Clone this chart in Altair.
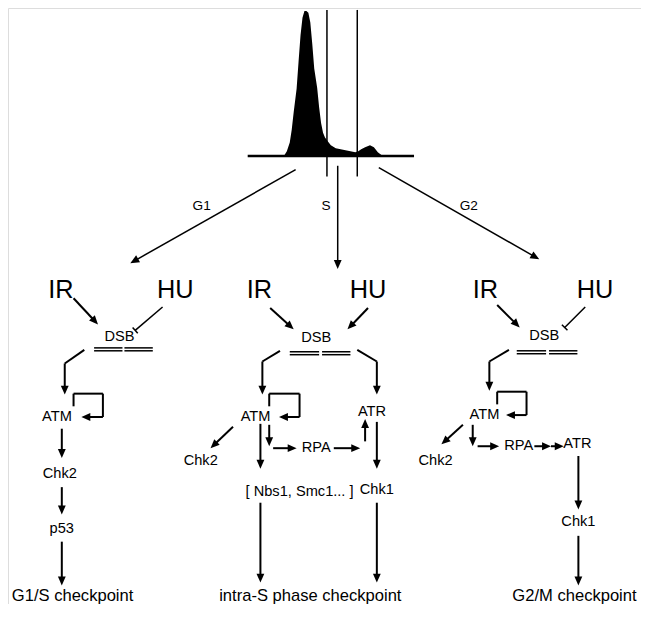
import math
import altair as alt
import pandas as pd

# ---------------- data (image pixel coordinates) ----------------
# DNA content histogram
hist_x = [287, 290, 293, 295, 297, 300, 302, 304, 306, 308, 310, 312, 314, 316, 318, 321, 323,
          325, 327, 329, 332, 335, 340, 345, 350, 355, 360, 363, 366, 370, 375, 379, 383, 388]
hist_y = [157, 152, 143, 130, 112, 88, 60, 33, 15, 8, 8, 10, 20, 42, 67, 87, 107,
          123, 133, 138, 142, 146, 149, 150, 151, 152, 153, 152, 150, 148, 146, 148, 153, 157]
hist_base = 157

# line segments: x1, y1, x2, y2, width, arrowhead at end (1/0)
seg_x1 = [250, 331, 362, 299, 342, 384,
          # panel G1
          72, 93, 93, 124, 124, 83, 63, 72, 72, 102, 102, 60, 60, 60,
          # panel S
          273, 373, 293, 293, 326, 326, 283, 265, 362, 382, 272, 272, 303, 303,
          235, 263, 272, 276, 338, 370, 382, 263, 382,
          # panel G2
          505, 525, 525, 558, 558, 517, 497, 505, 505, 535, 535,
          470, 480, 485, 543, 560, 588, 588]
seg_y1 = [157, 7, 7, 171, 167, 169,
          303, 354, 357, 354, 357, 356, 370, 414, 401, 401, 425, 437, 497, 553,
          313, 313, 358, 361, 358, 361, 357, 368, 356, 368, 414, 401, 401, 425,
          435, 432, 433, 457, 457, 450, 430, 513, 513,
          310, 357, 360, 357, 360, 356, 368, 412, 399, 399, 423,
          433, 433, 455, 455, 455, 465, 547]
seg_x2 = [420, 331, 362, 130, 342, 548,
          97, 122, 122, 153, 153, 63, 63, 72, 102, 102, 80, 60, 60, 60,
          297, 352, 323, 323, 355, 355, 265, 265, 382, 382, 272, 303, 303, 282,
          212, 263, 272, 300, 365, 370, 382, 263, 382,
          528, 555, 555, 587, 587, 497, 497, 505, 535, 535, 514,
          448, 480, 507, 560, 573, 588, 588]
seg_y2 = [157, 178, 178, 267, 273, 263,
          330, 354, 357, 354, 357, 370, 402, 401, 401, 425, 425, 467, 525, 598,
          335, 335, 358, 361, 358, 361, 368, 402, 368, 402, 401, 401, 425, 425,
          457, 478, 455, 457, 457, 427, 478, 595, 595,
          333, 357, 360, 357, 360, 368, 398, 399, 399, 423, 423,
          453, 455, 455, 455, 455, 520, 598]
seg_w = [2.5, 1.5, 1.5, 1.5, 1.5, 1.5,
         2, 1.5, 1.5, 1.5, 1.5, 2, 2, 2, 2, 2, 2, 2, 2, 2,
         2, 2, 1.5, 1.5, 1.5, 1.5, 2, 2, 2, 2, 2, 2, 2, 2,
         2, 2, 2, 2, 2, 2, 2, 2, 2,
         2, 1.5, 1.5, 1.5, 1.5, 2, 2, 2, 2, 2, 2,
         2, 2, 2, 2, 2, 2, 2]
seg_arrow = [0, 0, 0, 1, 1, 1,
             1, 0, 0, 0, 0, 0, 1, 0, 0, 0, 1, 1, 1, 1,
             1, 1, 0, 0, 0, 0, 0, 1, 0, 1, 0, 0, 0, 1,
             1, 1, 1, 1, 1, 1, 1, 1, 1,
             1, 0, 0, 0, 0, 0, 1, 0, 0, 0, 1,
             1, 1, 1, 1, 1, 1, 1]

# inhibition (HU -| DSB) lines
inh_x1 = [163, 595]
inh_y1 = [312, 312]
inh_x2 = [135, 574]
inh_y2 = [336, 333]

# text labels
lab_text = ["G1", "S", "G2",
            "IR", "HU", "DSB", "ATM", "Chk2", "p53", "G1/S checkpoint",
            "IR", "HU", "DSB", "ATM", "ATR", "Chk2", "RPA", "[ Nbs1, Smc1... ]", "Chk1",
            "intra-S phase checkpoint",
            "IR", "HU", "DSB", "ATM", "Chk2", "RPA", "ATR", "Chk1", "G2/M checkpoint"]
lab_x = [203, 330, 476,
         59, 176, 119, 55, 58, 60, 71,
         262, 373, 320, 258, 377, 202, 320, 303, 382, 314,
         493, 605, 553, 492, 442, 527, 587, 588, 584]
lab_y = [208, 208, 208,
         295, 295, 343, 425, 483, 540, 609,
         295, 295, 344, 425, 420, 470, 457, 502, 500, 609,
         295, 295, 342, 423, 470, 455, 453, 533, 609]
lab_fs = [14, 14, 14,
          26, 26, 15, 15, 15, 15, 17,
          26, 26, 15, 15, 15, 15, 15, 15, 15, 17,
          26, 26, 15, 15, 15, 15, 15, 15, 17]

# ---------------- build tables ----------------
HEAD_LEN = 9
rows, heads = [], []
for x1, y1, x2, y2, w, a in zip(seg_x1, seg_y1, seg_x2, seg_y2, seg_w, seg_arrow):
    dx, dy = x2 - x1, y2 - y1
    L = math.hypot(dx, dy)
    ex, ey = x2, y2
    if a:
        ex = x2 - dx / L * (HEAD_LEN - 2)
        ey = y2 - dy / L * (HEAD_LEN - 2)
        ang = math.degrees(math.atan2(dx, -dy)) % 360
        heads.append({"x": x2, "y": y2, "ang": ang})
    rows.append({"x": x1, "y": y1, "x2": ex, "y2": ey, "w": w})

for x1, y1, x2, y2 in zip(inh_x1, inh_y1, inh_x2, inh_y2):
    rows.append({"x": x1, "y": y1, "x2": x2, "y2": y2, "w": 1.5})
    dx, dy = x2 - x1, y2 - y1
    L = math.hypot(dx, dy)
    px, py = -dy / L * 4, dx / L * 4
    rows.append({"x": x2 - px, "y": y2 - py, "x2": x2 + px, "y2": y2 + py, "w": 1.5})

FS_SCALE = 0.975
seg_df = pd.DataFrame(rows)
head_df = pd.DataFrame(heads)
hist_df = pd.DataFrame({"x": hist_x, "y": hist_y, "b": [hist_base] * len(hist_x)})
lab_df = pd.DataFrame({"x": lab_x, "y": lab_y, "t": lab_text,
                       "fs": [f * FS_SCALE for f in lab_fs]})

W, H = 633, 596
xs = alt.Scale(domain=[5, 652], nice=False, zero=False)
ys = alt.Scale(domain=[5, 617], nice=False, zero=False, reverse=True)
X = lambda f: alt.X(f, type="quantitative", scale=xs, axis=None)
Y = lambda f: alt.Y(f, type="quantitative", scale=ys, axis=None)

hist = alt.Chart(hist_df).mark_area(color="black", interpolate="linear").encode(
    x=X("x"), y=Y("y"), y2="b")

segs = alt.Chart(seg_df).mark_rule(color="black").encode(
    x=X("x"), y=Y("y"), x2="x2", y2="y2",
    strokeWidth=alt.StrokeWidth("w:Q", scale=None))

arrow_shape = "M0,0L1.75,4L-1.75,4Z"
heads_layer = alt.Chart(head_df).mark_point(
    shape=arrow_shape, filled=True, fill="black", strokeWidth=0, opacity=1, size=20
).encode(x=X("x"), y=Y("y"), angle=alt.Angle("ang:Q", scale=None))

labels = alt.Chart(lab_df).mark_text(
    font="Liberation Sans", color="black", align="center", baseline="middle"
).encode(x=X("x"), y=Y("y"), text="t:N", size=alt.Size("fs:Q", scale=None))

chart = alt.layer(hist, segs, heads_layer, labels).properties(
    width=W, height=H, padding=0,
    autosize=alt.AutoSizeParams(type="none")
).configure_view(strokeWidth=0, stroke="transparent").configure(background="white")

chart.save("out.html", embed_options={"renderer": "svg", "actions": False})
